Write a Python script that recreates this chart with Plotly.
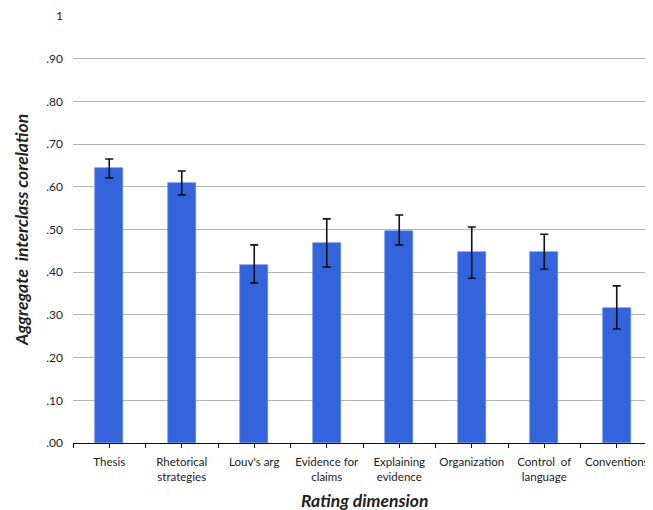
import plotly.graph_objects as go

categories = ["Thesis", "Rhetorical<br>strategies", "Louv's arg", "Evidence for<br>claims",
              "Explaining<br>evidence", "Organization", "Control  of<br>language", "Conventions"]
values = [0.644, 0.609, 0.417, 0.468, 0.496, 0.447, 0.447, 0.316]
err_plus = [0.021, 0.028, 0.047, 0.057, 0.038, 0.059, 0.042, 0.052]
err_minus = [0.023, 0.028, 0.042, 0.056, 0.032, 0.061, 0.040, 0.049]
y_ticks = [0, 0.1, 0.2, 0.3, 0.4, 0.5, 0.6, 0.7, 0.8, 0.9, 1.0]
y_ticktext = [".00", ".10", ".20", ".30", ".40", ".50", ".60", ".70", ".80", ".90", "1"]
x_title = "Rating dimension"
y_title = "Aggregate  interclass corelation"

xs = list(range(len(categories)))
bounds = [i - 0.5 for i in range(len(categories) + 1)]
x_tickvals = []
x_ticktext = []
for i, c in enumerate(categories):
    x_tickvals += [bounds[i], xs[i]]
    x_ticktext += ["", c]
x_tickvals.append(bounds[-1])
x_ticktext.append("")

FONT = "Lato, Open Sans, sans-serif"

fig = go.Figure()
fig.add_trace(go.Bar(
    x=xs, y=values, width=0.39,
    marker=dict(color="#3464DC", line=dict(color="#5a85e8", width=0.6)),
    error_y=dict(type="data", symmetric=False, array=err_plus, arrayminus=err_minus,
                 color="#111111", thickness=1.6, width=4),
    showlegend=False, hoverinfo="skip",
))

# the page body adds an 8px margin, so the figure is 8px smaller and shifted
fig.update_layout(
    width=645, height=502,
    margin=dict(l=65, r=0, t=8, b=67, autoexpand=False),
    plot_bgcolor="white", paper_bgcolor="white",
    font=dict(family=FONT, color="#222222", size=12),
    bargap=0,
    xaxis=dict(
        range=[bounds[0], bounds[-1]],
        tickmode="array", tickvals=x_tickvals, ticktext=x_ticktext,
        ticks="outside", ticklen=4, tickcolor="#111111", tickwidth=1.2,
        showline=True, linecolor="#111111", linewidth=1.2,
        showgrid=False, zeroline=False, automargin=False,
        ticklabelstandoff=4,
        tickfont=dict(size=11.5, family=FONT, color="#222222"),
    ),
    yaxis=dict(
        range=[0, 1],
        tickmode="array", tickvals=y_ticks, ticktext=y_ticktext,
        showgrid=True, gridcolor="#b3b3b3", gridwidth=1.4,
        zeroline=False, showline=False, ticks="", automargin=False,
        ticklabelstandoff=9,
        tickfont=dict(size=12, family=FONT, color="#222222"),
    ),
    annotations=[
        dict(text="<b><i>" + x_title + "</i></b>", xref="paper", yref="paper",
             x=0.503, y=-0.1335, xanchor="center", yanchor="middle", showarrow=False,
             font=dict(size=17.5, family=FONT, color="#222222")),
        dict(text="<b><i>" + y_title + "</i></b>", xref="paper", yref="paper",
             x=-0.088, y=0.499, xanchor="center", yanchor="middle", showarrow=False,
             textangle=-90, font=dict(size=17.5, family=FONT, color="#222222")),
    ],
)

fig.write_html("out.html")
